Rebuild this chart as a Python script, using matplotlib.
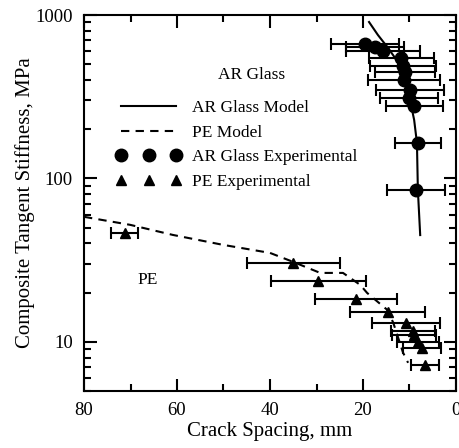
import matplotlib
matplotlib.use("Agg")
import matplotlib.pyplot as plt
from matplotlib.ticker import MultipleLocator, LogLocator, NullFormatter

plt.rcParams['font.family'] = ['Liberation Serif', 'DejaVu Serif']

# AR Glass experimental
ar_x = [19.6, 17.4, 15.7, 11.8, 11.4, 11.0, 11.2, 9.9, 10.1, 9.0, 8.2, 8.6]
ar_y = [665, 637, 602, 546, 488, 448, 400, 348, 311, 278, 165, 85]
ar_xerr = [7.3, 6.2, 7.9, 7.0, 7.2, 6.5, 7.8, 7.4, 6.2, 6.1, 5.0, 6.2]

# AR Glass model
arm_x = [18.7, 16.8, 14.6, 12.5, 11.0, 9.9, 9.0, 8.4, 8.2, 7.7]
arm_y = [906, 755, 628, 516, 400, 302, 228, 165, 85, 45]

# PE experimental
pe_x = [71.2, 35.0, 29.6, 21.5, 14.7, 10.8, 9.3, 9.0, 8.1, 7.4, 6.7]
pe_y = [46.2, 30.5, 23.4, 18.2, 15.3, 13.0, 11.7, 11.0, 10.0, 9.15, 7.23]
pe_xerr = [2.9, 10.0, 10.2, 8.8, 8.1, 7.3, 4.7, 4.8, 4.5, 4.1, 3.0]

# PE model
pem_x = [80, 70.1, 60.9, 50.1, 40.0, 35.1, 29.2, 24.3, 20.6, 19.1, 14.8, 13.5, 11.4, 10.3]
pem_y = [58.2, 52.0, 45.1, 39.2, 35.0, 30.9, 26.4, 26.4, 22.3, 19.9, 15.7, 13.1, 8.6, 7.44]

fig = plt.figure(figsize=(4.6, 4.48), dpi=100)
ax = fig.add_axes([84/460, 57/448, 372/460, 376/448])

ax.set_yscale('log')
ax.set_xlim(80, 0)
ax.set_ylim(5, 1000)

lw = 1.5
ax.plot(arm_x, arm_y, color='black', lw=lw, label='AR Glass Model')
ax.plot(pem_x, pem_y, color='black', lw=lw, ls=(0, (4, 3)), label='PE Model')

ax.errorbar(ar_x, ar_y, xerr=ar_xerr, fmt='none', ecolor='black', elinewidth=lw,
            capsize=4, capthick=lw)
ax.errorbar(pe_x, pe_y, xerr=pe_xerr, fmt='none', ecolor='black', elinewidth=lw,
            capsize=4, capthick=lw)
ax.plot(ar_x, ar_y, ls='none', marker='o', ms=9, color='black', label='AR Glass Experimental')
ax.plot(pe_x, pe_y, ls='none', marker='^', ms=7, color='black', label='PE Experimental')

ax.annotate('AR Glass', xy=(51.2, 430), ha='left', va='center', fontsize=12.5)
ax.annotate('PE', xy=(68.6, 24), ha='left', va='center', fontsize=12.5)

leg = ax.legend(loc='upper left', bbox_to_anchor=(0.085, 0.775), frameon=False,
                numpoints=3, handlelength=3.8, handletextpad=0.6, labelspacing=0.5,
                borderpad=0, borderaxespad=0, fontsize=12.5)

ax.xaxis.set_major_locator(MultipleLocator(20))
ax.xaxis.set_minor_locator(MultipleLocator(10))
ax.yaxis.set_minor_locator(LogLocator(base=10, subs=range(2, 10), numticks=20))
ax.yaxis.set_minor_formatter(NullFormatter())
ax.set_yticks([10, 100, 1000])
ax.set_yticklabels(['10', '100', '1000'])

ax.tick_params(which='both', direction='in', top=True, right=True, width=1.5,
               labelsize=13.5, pad=8)
ax.tick_params(which='major', length=9)
ax.tick_params(which='minor', length=5)
for s in ax.spines.values():
    s.set_linewidth(1.5)

ax.set_xlabel('Crack Spacing, mm', fontsize=15, labelpad=2)
ax.set_ylabel('Composite Tangent Stiffness, MPa', fontsize=15, labelpad=0)

fig.savefig('out.png', dpi=100)
